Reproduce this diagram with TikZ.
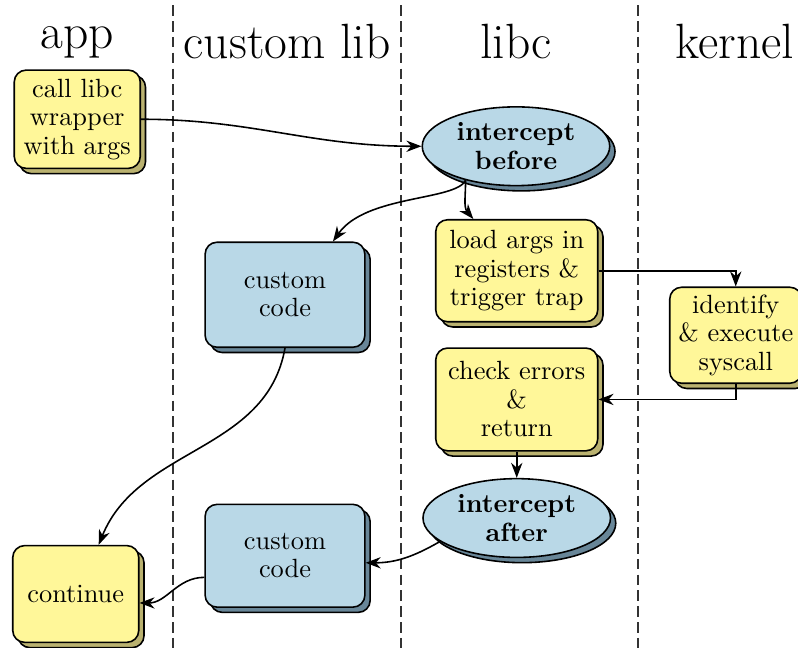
\documentclass[tikz,border=0pt]{standalone}
\usepackage{xcolor}
\usepackage{tikz}
\usetikzlibrary{arrows.meta,positioning,shapes.geometric,shadows}

\definecolor{codeyellow}{RGB}{255,247,153}
\definecolor{codeyellowdark}{RGB}{186,178,112}
\definecolor{hookblue}{RGB}{185,216,231}
\definecolor{hookbluedark}{RGB}{104,134,152}

\begin{document}
\begin{tikzpicture}[
    every node/.style={font=\linespread{0.9}\selectfont},
    head/.style={font=\fontsize{18.8}{22}\selectfont},
    box/.style={draw, semithick, rounded corners=4.5pt, align=center, inner sep=2pt},
    ybox/.style={box, fill=codeyellow, copy shadow={shadow xshift=2pt, shadow yshift=-2pt, fill=codeyellowdark, draw=black, semithick}},
    bbox/.style={box, fill=hookblue, copy shadow={shadow xshift=2pt, shadow yshift=-2pt, fill=hookbluedark, draw=black, semithick}},
    hook/.style={draw, semithick, ellipse, fill=hookblue, align=center, inner sep=0pt, minimum width=2.5cm, minimum height=1.05cm,
        font=\bfseries\linespread{0.9}\selectfont, copy shadow={shadow xshift=2pt, shadow yshift=-2pt, fill=hookbluedark, draw=black, semithick}},
    arr/.style={-Stealth, semithick},
    lane/.style={dash pattern=on 4pt off 2pt, semithick, black!80}
]
\useasboundingbox (0,0) rectangle (10.64,-8.64);

% lanes
\foreach \x in {2.31,5.35,8.51}
    \draw[lane] (\x,-0.07) -- (\x,-8.64);

\node[head] (happ) at (1.03,-0.56) {app};
\node[head] (hlib) at (3.83,-0.56) {custom lib};
\node[head] (hlibc) at (6.88,-0.56) {libc};
\node[head] (hkern) at (9.8,-0.56) {kernel};

% app
\node[ybox, minimum width=1.68cm, minimum height=1.31cm] (call) at (1.03,-1.59) {call libc\\wrapper\\with args};
\node[ybox, minimum width=1.68cm, minimum height=1.29cm] (cont) at (1.01,-7.92) {continue};

% custom lib
\node[bbox, minimum width=2.13cm, minimum height=1.4cm] (cc1) at (3.8,-3.93) {custom\\code};
\node[bbox, minimum width=2.13cm, minimum height=1.37cm] (cc2) at (3.8,-7.41) {custom\\code};

% libc
\node[hook] (before) at (6.88,-1.95) {intercept\\before};
\node[ybox, minimum width=2.16cm, minimum height=1.36cm] (load) at (6.89,-3.61) {load args in\\registers \&\\trigger trap};
\node[ybox, minimum width=2.16cm, minimum height=1.37cm, below=0.33cm of load] (chk) {check errors\\\&\\return};
\node[hook, below=0.35cm of chk] (after) {intercept\\after};

% kernel
\node[ybox, minimum width=1.76cm, minimum height=1.28cm] (idf) at (9.81,-4.47) {identify\\\& execute\\syscall};

\draw[arr] (call.east) to[out=0,in=180] (before.west);
\draw[arr] (before.214) to[out=-115,in=55,out looseness=0.4] (cc1.48);
\draw[arr] (before.214) to[out=-90,in=130] (load.130);
\draw[arr] (cc1.south) to[out=-100,in=68] (cont.65);
\draw[arr] (load.east) -| (idf.north);
\draw[arr] (idf.south) |- (chk.east);
\draw[arr] (chk) -- (after);
\draw[arr] (after.197) to[out=210,in=0] (cc2.-5);
\draw[arr] (cc2.195) to[out=180,in=0] (cont.-8);
\end{tikzpicture}
\end{document}
